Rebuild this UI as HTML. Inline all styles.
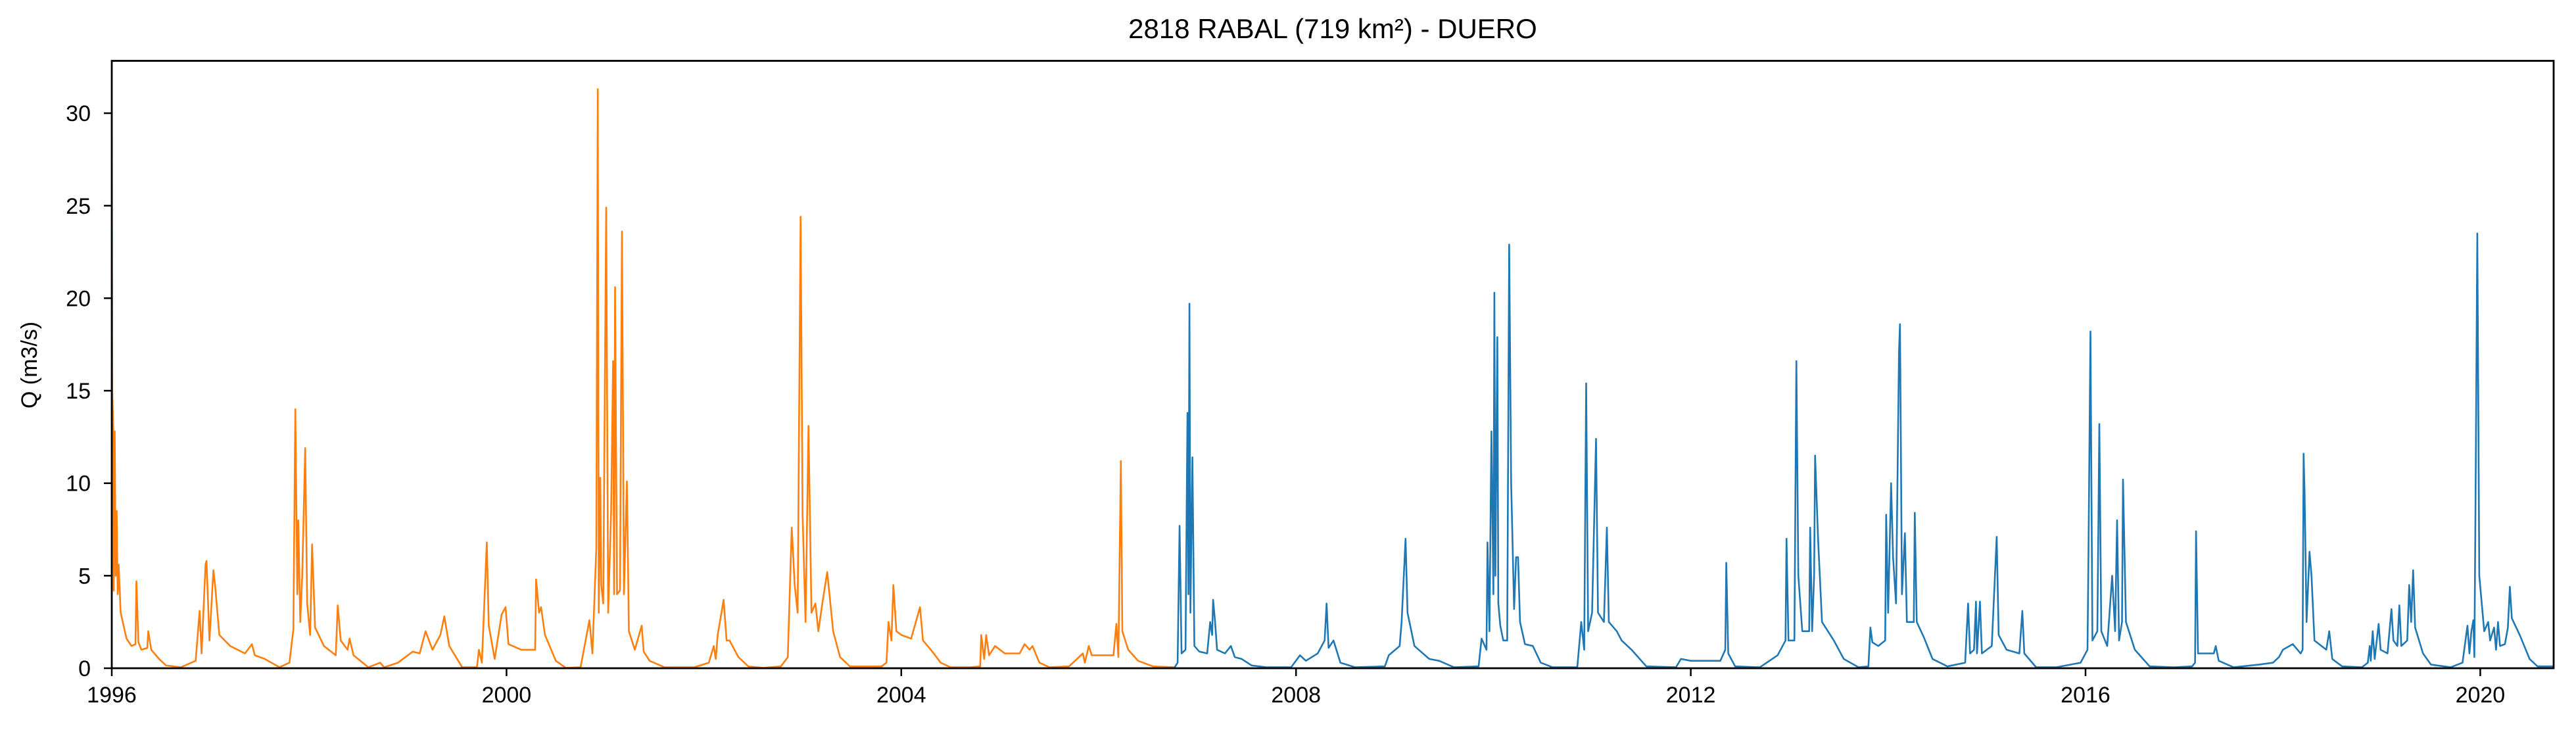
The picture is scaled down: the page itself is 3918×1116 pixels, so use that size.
<!DOCTYPE html>
<html><head><meta charset="utf-8">
<style>
html,body{margin:0;padding:0;background:#fff;}
svg{display:block;font-family:"Liberation Sans","DejaVu Sans",sans-serif;}
</style></head>
<body>
<svg id="chart" width="3918" height="1116" viewBox="0 0 3918 1116" xmlns="http://www.w3.org/2000/svg">
<rect x="0" y="0" width="3918" height="1116" fill="#fff"/>
<text x="2027" y="58" font-size="42" text-anchor="middle" fill="#000">2818 RABAL (719 km²) - DUERO</text>
<text transform="translate(56,555) rotate(-90)" font-size="34" text-anchor="middle" fill="#000">Q (m3/s)</text>
<g id="series"></g>
<g id="axes"></g>
</svg>
<script>
const xTickYears = [1996, 2000, 2004, 2008, 2012, 2016, 2020];
const yTickValues = [0, 5, 10, 15, 20, 25, 30];
const orangeDates = [
1996.0,1996.005,1996.015,1996.02,1996.03,1996.04,1996.05,1996.06,1996.07,1996.09,
1996.12,1996.15,1996.2,1996.24,1996.25,1996.27,1996.3,1996.36,1996.37,1996.4,
1996.48,1996.55,1996.7,1996.85,1996.89,1996.91,1996.95,1996.96,1996.99,1997.03,
1997.05,1997.09,1997.2,1997.35,1997.42,1997.45,1997.55,1997.7,1997.8,1997.84,
1997.86,1997.88,1997.89,1997.91,1997.93,1997.96,1997.98,1998.01,1998.03,1998.06,
1998.15,1998.27,1998.29,1998.32,1998.39,1998.41,1998.45,1998.6,1998.72,1998.76,
1998.9,1999.05,1999.12,1999.18,1999.25,1999.33,1999.37,1999.42,1999.55,1999.7,
1999.72,1999.75,1999.8,1999.82,1999.88,1999.95,1999.99,2000.02,2000.15,2000.29,
2000.3,2000.33,2000.35,2000.39,2000.5,2000.6,2000.75,2000.84,2000.87,2000.91,
2000.925,2000.935,2000.95,2000.96,2000.98,2001.01,2001.03,2001.06,2001.08,2001.09,
2001.1,2001.12,2001.15,2001.17,2001.19,2001.22,2001.24,2001.3,2001.37,2001.39,
2001.45,2001.6,2001.9,2002.05,2002.1,2002.12,2002.14,2002.2,2002.23,2002.26,
2002.35,2002.45,2002.6,2002.78,2002.85,2002.89,2002.92,2002.95,2002.98,2003.0,
2003.03,2003.06,2003.09,2003.13,2003.16,2003.2,2003.25,2003.31,2003.38,2003.48,
2003.6,2003.8,2003.85,2003.87,2003.9,2003.92,2003.95,2004.0,2004.1,2004.19,
2004.22,2004.3,2004.4,2004.5,2004.7,2004.8,2004.81,2004.84,2004.86,2004.89,
2004.95,2005.05,2005.2,2005.25,2005.3,2005.33,2005.4,2005.5,2005.7,2005.84,
2005.86,2005.9,2005.93,2006.05,2006.15,2006.18,2006.2,2006.225,2006.24,2006.3,
2006.4,2006.55,2006.77];
const orangeValues = [
30,15,12.8,4.2,12.8,5,8.5,4.0,5.6,3.0,
2.3,1.6,1.2,1.3,4.7,1.4,1.0,1.1,2.0,1.0,
0.5,0.15,0.05,0.4,3.1,0.8,5.6,5.8,1.5,5.3,
4.3,1.8,1.2,0.8,1.3,0.7,0.5,0.05,0.3,2.1,
14.0,4.0,8.0,2.5,5.0,11.9,3.5,1.8,6.7,2.2,
1.2,0.7,3.4,1.5,1.0,1.6,0.7,0.05,0.3,0.05,
0.3,0.9,0.8,2.0,1.0,1.8,2.8,1.2,0.05,0.05,
1.0,0.3,6.8,2.3,0.5,2.9,3.3,1.3,1.0,1.0,
4.8,3.0,3.3,1.8,0.4,0.02,0.05,2.6,0.8,6.5,
31.3,3.0,10.3,4.5,3.5,24.9,3.0,8.5,16.6,4.0,
20.6,4.0,4.2,23.6,4.0,10.1,2.0,1.0,2.3,0.9,
0.4,0.05,0.05,0.3,1.2,0.5,1.8,3.7,1.5,1.5,
0.6,0.1,0.02,0.1,0.6,7.6,4.5,3.0,24.4,8.3,
2.5,13.1,3.0,3.5,2.0,3.5,5.2,2.0,0.6,0.1,
0.1,0.1,0.3,2.5,1.5,4.5,2.0,1.8,1.6,3.3,
1.5,1.0,0.3,0.05,0.05,0.1,1.8,0.5,1.8,0.7,
1.2,0.8,0.8,1.3,1.0,1.2,0.3,0.05,0.1,0.8,
0.3,1.2,0.7,0.7,0.7,2.4,0.6,11.2,2.0,1.0,
0.4,0.1,0.05];
const blueDates = [2006.77,2006.8,2006.82,2006.84,2006.88,2006.9,2006.91,2006.92,2006.93,2006.95,2006.97,2007.02,2007.1,2007.13,2007.15,2007.16,2007.18,2007.2,2007.28,2007.34,2007.38,2007.45,2007.55,2007.7,2007.95,2008.04,2008.1,2008.22,2008.29,2008.31,2008.33,2008.38,2008.45,2008.6,2008.9,2008.94,2009.05,2009.07,2009.11,2009.13,2009.2,2009.35,2009.45,2009.6,2009.85,2009.88,2009.93,2009.94,2009.96,2009.98,2010.0,2010.01,2010.02,2010.04,2010.05,2010.07,2010.1,2010.14,2010.16,2010.18,2010.21,2010.23,2010.25,2010.27,2010.32,2010.4,2010.48,2010.6,2010.85,2010.89,2010.92,2010.94,2010.96,2011.0,2011.04,2011.06,2011.12,2011.15,2011.17,2011.25,2011.3,2011.4,2011.55,2011.85,2011.9,2012.0,2012.3,2012.35,2012.36,2012.38,2012.45,2012.7,2012.88,2012.96,2012.97,2012.99,2013.05,2013.07,2013.09,2013.13,2013.2,2013.21,2013.23,2013.25,2013.26,2013.29,2013.33,2013.45,2013.55,2013.7,2013.8,2013.82,2013.84,2013.9,2013.97,2013.98,2014.0,2014.03,2014.05,2014.08,2014.11,2014.12,2014.14,2014.17,2014.19,2014.26,2014.27,2014.29,2014.36,2014.45,2014.6,2014.78,2014.81,2014.83,2014.87,2014.89,2014.9,2014.93,2014.95,2015.05,2015.1,2015.12,2015.2,2015.33,2015.36,2015.38,2015.5,2015.7,2015.95,2016.02,2016.03,2016.05,2016.07,2016.12,2016.14,2016.16,2016.22,2016.27,2016.3,2016.32,2016.34,2016.37,2016.38,2016.41,2016.5,2016.65,2016.9,2017.08,2017.11,2017.12,2017.14,2017.2,2017.3,2017.32,2017.35,2017.5,2017.76,2017.9,2017.96,2018.0,2018.1,2018.18,2018.2,2018.21,2018.22,2018.24,2018.27,2018.29,2018.32,2018.44,2018.47,2018.5,2018.6,2018.8,2018.86,2018.88,2018.89,2018.91,2018.93,2018.97,2018.99,2019.06,2019.1,2019.12,2019.16,2019.18,2019.2,2019.26,2019.28,2019.3,2019.32,2019.34,2019.42,2019.5,2019.7,2019.82,2019.87,2019.89,2019.91,2019.93,2019.94,2019.95,2019.97,2019.99,2020.04,2020.08,2020.1,2020.14,2020.16,2020.18,2020.2,2020.25,2020.28,2020.3,2020.32,2020.4,2020.5,2020.58,2020.74];
const blueValues = [0.05,0.3,7.7,0.8,1.0,13.8,4.0,19.7,3.0,11.4,1.2,0.9,0.8,2.5,1.8,3.7,2.5,1.0,0.8,1.2,0.6,0.5,0.15,0.05,0.05,0.7,0.4,0.8,1.5,3.5,1.1,1.5,0.3,0.05,0.1,0.7,1.2,2.5,7.0,3.0,1.2,0.5,0.4,0.05,0.1,1.6,1.0,6.8,2.0,12.8,4.0,20.3,5.0,17.9,3.5,2.3,1.5,1.5,22.9,10.0,3.2,6.0,6.0,2.5,1.3,1.2,0.3,0.05,0.05,2.5,1.0,15.4,2.0,3.0,12.4,3.0,2.5,7.6,2.5,2.0,1.5,1.0,0.1,0.05,0.5,0.4,0.4,1.0,5.7,0.8,0.1,0.05,0.7,1.5,7.0,1.5,1.5,16.6,5.0,2.0,2.0,7.6,2.0,5.0,11.5,7.0,2.5,1.5,0.5,0.05,0.1,2.2,1.4,1.2,1.5,8.3,3.0,10.0,6.0,3.5,17.1,18.6,4.0,7.3,2.5,2.5,8.4,2.5,1.7,0.5,0.1,0.3,3.5,0.8,1.0,3.6,0.8,3.6,0.8,1.2,7.1,1.8,1.0,0.8,3.1,0.8,0.05,0.05,0.3,1.0,6.2,18.2,1.5,2.0,13.2,2.0,1.2,5.0,2.0,8.0,1.5,2.5,10.2,2.5,1.0,0.1,0.05,0.1,0.3,7.4,0.8,0.8,0.8,1.2,0.4,0.05,0.2,0.3,0.6,1.0,1.3,0.8,1.0,11.6,9.5,2.5,6.3,5.0,1.5,1.0,2.0,0.5,0.1,0.05,0.3,1.2,0.4,2.0,0.5,2.4,1.0,0.8,3.2,1.5,1.2,3.4,1.2,1.5,4.5,2.5,5.3,2.2,0.8,0.2,0.05,0.3,2.3,0.8,2.0,2.6,0.6,7.5,23.5,5.0,2.0,2.5,1.5,2.2,1.0,2.5,1.2,1.3,2.2,4.4,2.7,1.8,0.5,0.1,0.1];

const X0 = 170, PXY = 150.1, Y0 = 1016, PXV = 28.13;
function xScale(yr){ return X0 + (yr - 1996) * PXY; }
function yScale(v){ return Y0 - v * PXV; }
const NS = "http://www.w3.org/2000/svg";
const seriesG = document.getElementById('series');
const axesG = document.getElementById('axes');

function drawLine(dates, values, color, name){
  let d = '';
  const n = Math.min(dates.length, values.length);
  for (let i = 0; i < n; i++) {
    d += (i ? 'L' : 'M') + xScale(dates[i]).toFixed(1) + ',' + yScale(values[i]).toFixed(1);
  }
  const p = document.createElementNS(NS, 'path');
  p.setAttribute('d', d);
  p.setAttribute('fill', 'none');
  p.setAttribute('stroke', color);
  p.setAttribute('stroke-width', '2.6');
  p.setAttribute('stroke-linejoin', 'round');
  
  
  seriesG.appendChild(p);
}
drawLine(orangeDates, orangeValues, '#ff7f0e', 'orange-series-line');
drawLine(blueDates, blueValues, '#1f77b4', 'blue-series-line');

const frame = document.createElementNS(NS, 'rect');
frame.setAttribute('x', 170); frame.setAttribute('y', 92.5);
frame.setAttribute('width', 3884 - 170); frame.setAttribute('height', 1016 - 92.5);
frame.setAttribute('fill', 'none'); frame.setAttribute('stroke', '#000'); frame.setAttribute('stroke-width', '2.8');


axesG.appendChild(frame);

for (const yr of xTickYears) {
  const x = xScale(yr);
  const t = document.createElementNS(NS, 'line');
  t.setAttribute('x1', x); t.setAttribute('x2', x); t.setAttribute('y1', 1016); t.setAttribute('y2', 1028);
  t.setAttribute('stroke', '#000'); t.setAttribute('stroke-width', '2.5');
  
  
  axesG.appendChild(t);
  const lb = document.createElementNS(NS, 'text');
  lb.setAttribute('x', x); lb.setAttribute('y', 1068);
  lb.setAttribute('font-size', '34'); lb.setAttribute('text-anchor', 'middle');
  lb.textContent = String(yr);
  
  
  axesG.appendChild(lb);
}
for (const v of yTickValues) {
  const y = yScale(v);
  const t = document.createElementNS(NS, 'line');
  t.setAttribute('x1', 158); t.setAttribute('x2', 170); t.setAttribute('y1', y); t.setAttribute('y2', y);
  t.setAttribute('stroke', '#000'); t.setAttribute('stroke-width', '2.5');
  
  
  axesG.appendChild(t);
  const lb = document.createElementNS(NS, 'text');
  lb.setAttribute('x', 138); lb.setAttribute('y', y + 12);
  lb.setAttribute('font-size', '34'); lb.setAttribute('text-anchor', 'end');
  lb.textContent = String(v);
  
  
  axesG.appendChild(lb);
}
</script>
</body></html>
